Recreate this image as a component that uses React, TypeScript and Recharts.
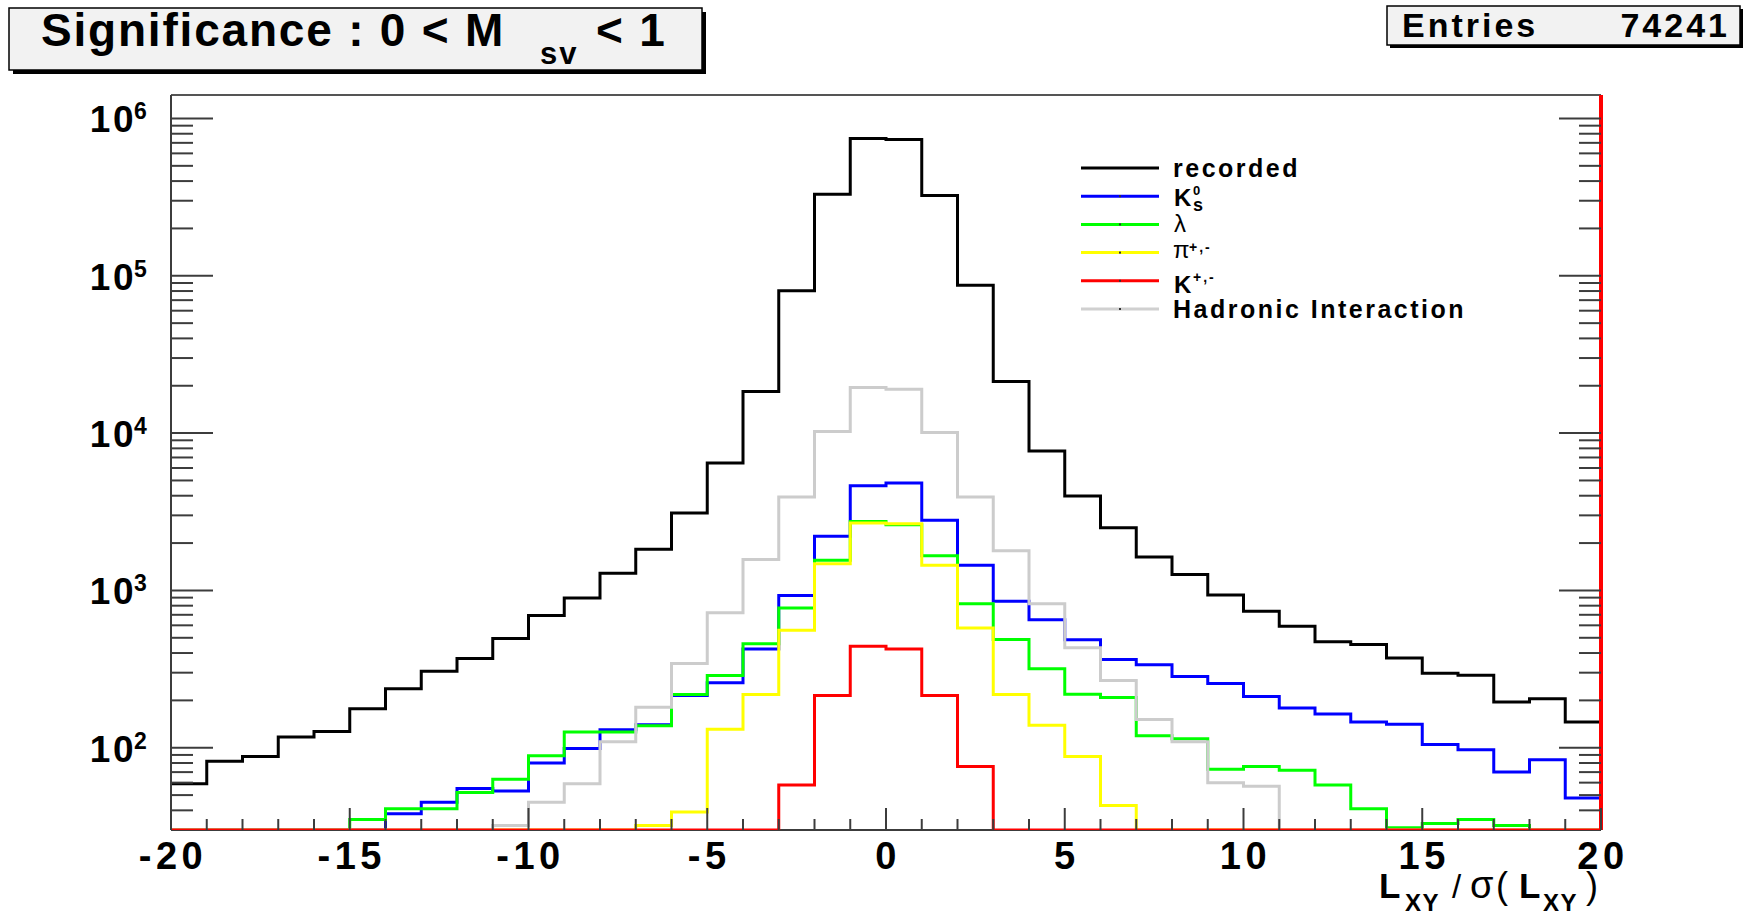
import React from "react";
import { ComposedChart, Line, XAxis, YAxis, ReferenceLine } from "recharts";

// bin edges of L_XY / sigma(L_XY); the last edge closes the final step
const BIN_EDGES = [
  -20, -19, -18, -17, -16, -15, -14, -13, -12, -11, -10, -9, -8, -7, -6, -5, -4, -3, -2, -1,
  0, 1, 2, 3, 4, 5, 6, 7, 8, 9, 10, 11, 12, 13, 14, 15, 16, 17, 18, 19, 20,
];

// bin contents, one value per bin (-20..19)
const RECORDED = [
  59, 82, 88, 117, 127, 177, 237, 306, 369, 494, 692, 896, 1284, 1824, 3105, 6457, 18370, 80400, 330000, 746000,
  736000, 324000, 87100, 21300, 7700, 3980, 2500, 1629, 1264, 934, 736, 593, 472, 454, 372, 298, 289, 195, 205, 146,
];
const K0S = [
  0, 0, 0, 0, 0, 0, 38, 45, 55, 53, 80, 99, 130, 140, 215, 259, 425, 927, 2210, 4630,
  4820, 2790, 1443, 853, 652, 486, 364, 337, 284, 256, 212, 179, 164, 146, 141, 105, 97, 70, 84, 48,
];
const LAMBDA = [
  0, 0, 0, 0, 0, 35, 41, 41, 52, 63, 89, 126, 126, 138, 218, 288, 459, 774, 1553, 2747,
  2618, 1663, 824, 487, 318, 219, 209, 119, 114, 73, 76, 72, 58, 41, 31, 33, 35, 32, 0, 0,
];
const PION = [
  0, 0, 0, 0, 0, 0, 0, 0, 0, 0, 0, 0, 0, 32, 39, 131, 218, 558, 1479, 2685,
  2650, 1443, 578, 218, 139, 88, 43, 0, 0, 0, 0, 0, 0, 0, 0, 0, 0, 0, 0, 0,
];
const KAON = [
  0, 0, 0, 0, 0, 0, 0, 0, 0, 0, 0, 0, 0, 0, 0, 0, 0, 58, 215, 442,
  425, 215, 76, 0, 0, 0, 0, 0, 0, 0, 0, 0, 0, 0, 0, 0, 0, 0, 0, 0,
];
const HADRONIC = [
  0, 0, 0, 0, 0, 0, 0, 0, 0, 32, 45, 59, 109, 181, 343, 720, 1570, 3930, 10240, 19500,
  19000, 10100, 3930, 1790, 823, 432, 268, 151, 109, 60, 57, 0, 0, 0, 0, 0, 0, 0, 0, 0,
];

const X_TICKS = [
  -20, -19, -18, -17, -16, -15, -14, -13, -12, -11, -10, -9, -8, -7, -6, -5, -4, -3, -2, -1,
  0, 1, 2, 3, 4, 5, 6, 7, 8, 9, 10, 11, 12, 13, 14, 15, 16, 17, 18, 19, 20,
];
const X_LABELS = [-20, -15, -10, -5, 0, 5, 10, 15, 20];
const Y_TICKS = [
  40, 50, 60, 70, 80, 90,
  100, 200, 300, 400, 500, 600, 700, 800, 900,
  1000, 2000, 3000, 4000, 5000, 6000, 7000, 8000, 9000,
  10000, 20000, 30000, 40000, 50000, 60000, 70000, 80000, 90000,
  100000, 200000, 300000, 400000, 500000, 600000, 700000, 800000, 900000,
  1000000,
];
const Y_MIN = 30;
const Y_MAX = 1410000;

const FONT = '"Liberation Sans", Arial, Helvetica, sans-serif';
const AXIS = "#3c3c3c";

const SERIES = [
  { key: "recorded", values: RECORDED, color: "#000000" },
  { key: "k0s", values: K0S, color: "#0000ff" },
  { key: "lambda", values: LAMBDA, color: "#00ff00" },
  { key: "pion", values: PION, color: "#ffff00" },
  { key: "hadronic", values: HADRONIC, color: "#cccccc" },
  { key: "kaon", values: KAON, color: "#ff0000" },
];

// empty bins sit on the bottom of the frame, like ROOT does on a log axis
const rows = BIN_EDGES.map((edge, i) => {
  const j = Math.min(i, RECORDED.length - 1);
  const row: Record<string, number> = { x: edge };
  SERIES.forEach((s) => {
    row[s.key] = s.values[j] > Y_MIN ? s.values[j] : Y_MIN;
  });
  return row;
});

function isDecade(v: number) {
  const e = Math.log10(v);
  return Math.abs(e - Math.round(e)) < 1e-6;
}

function XTick(props: any) {
  const { x, y, payload } = props;
  const v = payload.value;
  const major = X_LABELS.includes(v);
  return (
    <g>
      <line x1={x} x2={x} y1={y} y2={y - (major ? 22 : 11)} stroke={AXIS} strokeWidth={2} />
      {major && (
        <text
          x={x + 2}
          y={y + 39}
          textAnchor="middle"
          fontFamily={FONT}
          fontWeight="bold"
          fontSize={38}
          style={{ letterSpacing: 4.5 }}
          fill="#000"
        >
          {String(v)}
        </text>
      )}
    </g>
  );
}

function YTickLeft(props: any) {
  const { x, y, payload } = props;
  const major = isDecade(payload.value);
  return (
    <g>
      <line x1={x} x2={x + (major ? 42 : 22)} y1={y} y2={y} stroke={AXIS} strokeWidth={2} />
      {major && (
        <g fontFamily={FONT} fontWeight="bold" fill="#000">
          <text x={x - 35} y={y + 14} textAnchor="end" fontSize={37} style={{ letterSpacing: 2.5 }}>
            10
          </text>
          <text x={x - 37} y={y + 1} fontSize={23}>
            {Math.round(Math.log10(payload.value))}
          </text>
        </g>
      )}
    </g>
  );
}

function YTickRight(props: any) {
  const { x, y, payload } = props;
  const major = isDecade(payload.value);
  return <line x1={x} x2={x - (major ? 42 : 22)} y1={y} y2={y} stroke={AXIS} strokeWidth={2} />;
}

const LEGEND = [
  { key: "recorded", color: "#000000" },
  { key: "k0s", color: "#0000ff" },
  { key: "lambda", color: "#00ff00" },
  { key: "pion", color: "#ffff00" },
  { key: "kaon", color: "#ff0000" },
  { key: "hadronic", color: "#d0d0d0" },
];

function LegendLabel({ k, x, y }: { k: string; x: number; y: number }) {
  const base = { fontFamily: FONT, fontWeight: "bold" as const, fill: "#000" };
  const ls = { letterSpacing: 2.5 };
  if (k === "recorded")
    return <text x={x} y={y + 9} fontSize={25} style={ls} {...base}>recorded</text>;
  if (k === "hadronic")
    return <text x={x} y={y + 9} fontSize={25} style={ls} {...base}>Hadronic Interaction</text>;
  if (k === "lambda")
    return <text x={x + 1} y={y + 8} fontSize={24} fontFamily={FONT} fill="#000">λ</text>;
  if (k === "k0s")
    return (
      <g {...base}>
        <text x={x + 1} y={y + 10} fontSize={24}>K</text>
        <text x={x + 20} y={y - 1} fontSize={13}>0</text>
        <text x={x + 20} y={y + 15} fontSize={18}>s</text>
      </g>
    );
  if (k === "pion")
    return (
      <g fill="#000" fontFamily={FONT}>
        <text x={x} y={y + 5} fontSize={24}>π</text>
        <text x={x + 16} y={y - 1} fontSize={14} fontWeight="bold" style={{ letterSpacing: 2 }}>+,-</text>
      </g>
    );
  return (
    <g {...base}>
      <text x={x + 1} y={y + 12} fontSize={24}>K</text>
      <text x={x + 20} y={y + 1} fontSize={14} style={{ letterSpacing: 2 }}>+,-</text>
    </g>
  );
}

function Overlay() {
  const bold = { fontFamily: FONT, fontWeight: "bold" as const, fill: "#000" };
  return (
    <svg
      width={1747}
      height={917}
      style={{ position: "absolute", left: 0, top: 0, pointerEvents: "none" }}
    >
      {/* title box */}
      <rect x={13} y={12} width={693} height={62} fill="#000" />
      <rect x={9} y={8} width={693} height={62} fill="#f2f2f2" stroke="#000" strokeWidth={1.5} />
      <text x={41} y={46} fontSize={46} style={{ letterSpacing: 1.8 }} {...bold}>
        Significance : 0 &lt; M
      </text>
      <text x={540} y={64} fontSize={31} style={{ letterSpacing: 2 }} {...bold}>sv</text>
      <text x={596} y={46} fontSize={46} style={{ letterSpacing: 1.8 }} {...bold}>&lt; 1</text>

      {/* stats box */}
      <rect x={1390} y={9} width={353} height={39} fill="#000" />
      <rect x={1387} y={6} width={353} height={39} fill="#f2f2f2" stroke="#000" strokeWidth={1.5} />
      <text x={1402} y={37} fontSize={34} style={{ letterSpacing: 3 }} {...bold}>Entries</text>
      <text x={1730} y={37} fontSize={34} textAnchor="end" style={{ letterSpacing: 3 }} {...bold}>74241</text>

      {/* legend */}
      {LEGEND.map((item, i) => {
        const y = 168 + i * 28.2;
        return (
          <g key={item.key}>
            <line x1={1081} x2={1159} y1={y} y2={y} stroke={item.color} strokeWidth={3} />
            {i > 0 && <rect x={1119} y={y - 1} width={2} height={2} fill="#333" />}
            <LegendLabel k={item.key} x={1173} y={y} />
          </g>
        );
      })}

      {/* x axis title */}
      <g {...bold}>
        <text x={1379} y={898} fontSize={35}>L</text>
        <text x={1405} y={911} fontSize={24} style={{ letterSpacing: 1.5 }}>XY</text>
        <text x={1452} y={898} fontSize={33} fontWeight="normal">/</text>
        <text x={1470} y={898} fontSize={38} fontWeight="normal">σ</text>
        <text x={1496} y={898} fontSize={36} fontWeight="normal">(</text>
        <text x={1519} y={898} fontSize={35}>L</text>
        <text x={1543} y={911} fontSize={24} style={{ letterSpacing: 1.5 }}>XY</text>
        <text x={1586} y={898} fontSize={36} fontWeight="normal">)</text>
      </g>
    </svg>
  );
}

export default function App() {
  return (
    <div style={{ position: "absolute", left: 0, top: 0, width: 1747, height: 917, background: "#fff" }}>
      <ComposedChart
        width={1747}
        height={917}
        data={rows}
        margin={{ top: 95, right: 136, bottom: 0, left: 71 }}
      >
        <XAxis
          type="number"
          dataKey="x"
          domain={[-20, 20]}
          ticks={X_TICKS}
          interval={0}
          height={87}
          tickSize={0}
          tickMargin={0}
          tickLine={false}
          axisLine={false}
          tick={(p: any) => <XTick {...p} />}
          allowDataOverflow
        />
        <YAxis
          yAxisId="left"
          scale="log"
          domain={[Y_MIN, Y_MAX]}
          ticks={Y_TICKS}
          interval={0}
          width={100}
          tickSize={0}
          tickMargin={0}
          tickLine={false}
          axisLine={{ stroke: AXIS, strokeWidth: 2 }}
          tick={(p: any) => <YTickLeft {...p} />}
          allowDataOverflow
        />
        <YAxis
          yAxisId="right"
          orientation="right"
          scale="log"
          domain={[Y_MIN, Y_MAX]}
          ticks={Y_TICKS}
          interval={0}
          width={10}
          tickSize={0}
          tickMargin={0}
          tickLine={false}
          axisLine={{ stroke: "#ff0000", strokeWidth: 4 }}
          tick={(p: any) => <YTickRight {...p} />}
          allowDataOverflow
        />
        <ReferenceLine yAxisId="left" y={Y_MAX} stroke="#555" strokeWidth={2} />
        <ReferenceLine yAxisId="left" y={Y_MIN} stroke={AXIS} strokeWidth={2} />
        {SERIES.map((s) => (
          <Line
            key={s.key}
            yAxisId="left"
            type="stepAfter"
            dataKey={s.key}
            stroke={s.color}
            strokeWidth={3}
            dot={false}
            activeDot={false}
            isAnimationActive={false}
          />
        ))}
      </ComposedChart>
      <Overlay />
    </div>
  );
}
